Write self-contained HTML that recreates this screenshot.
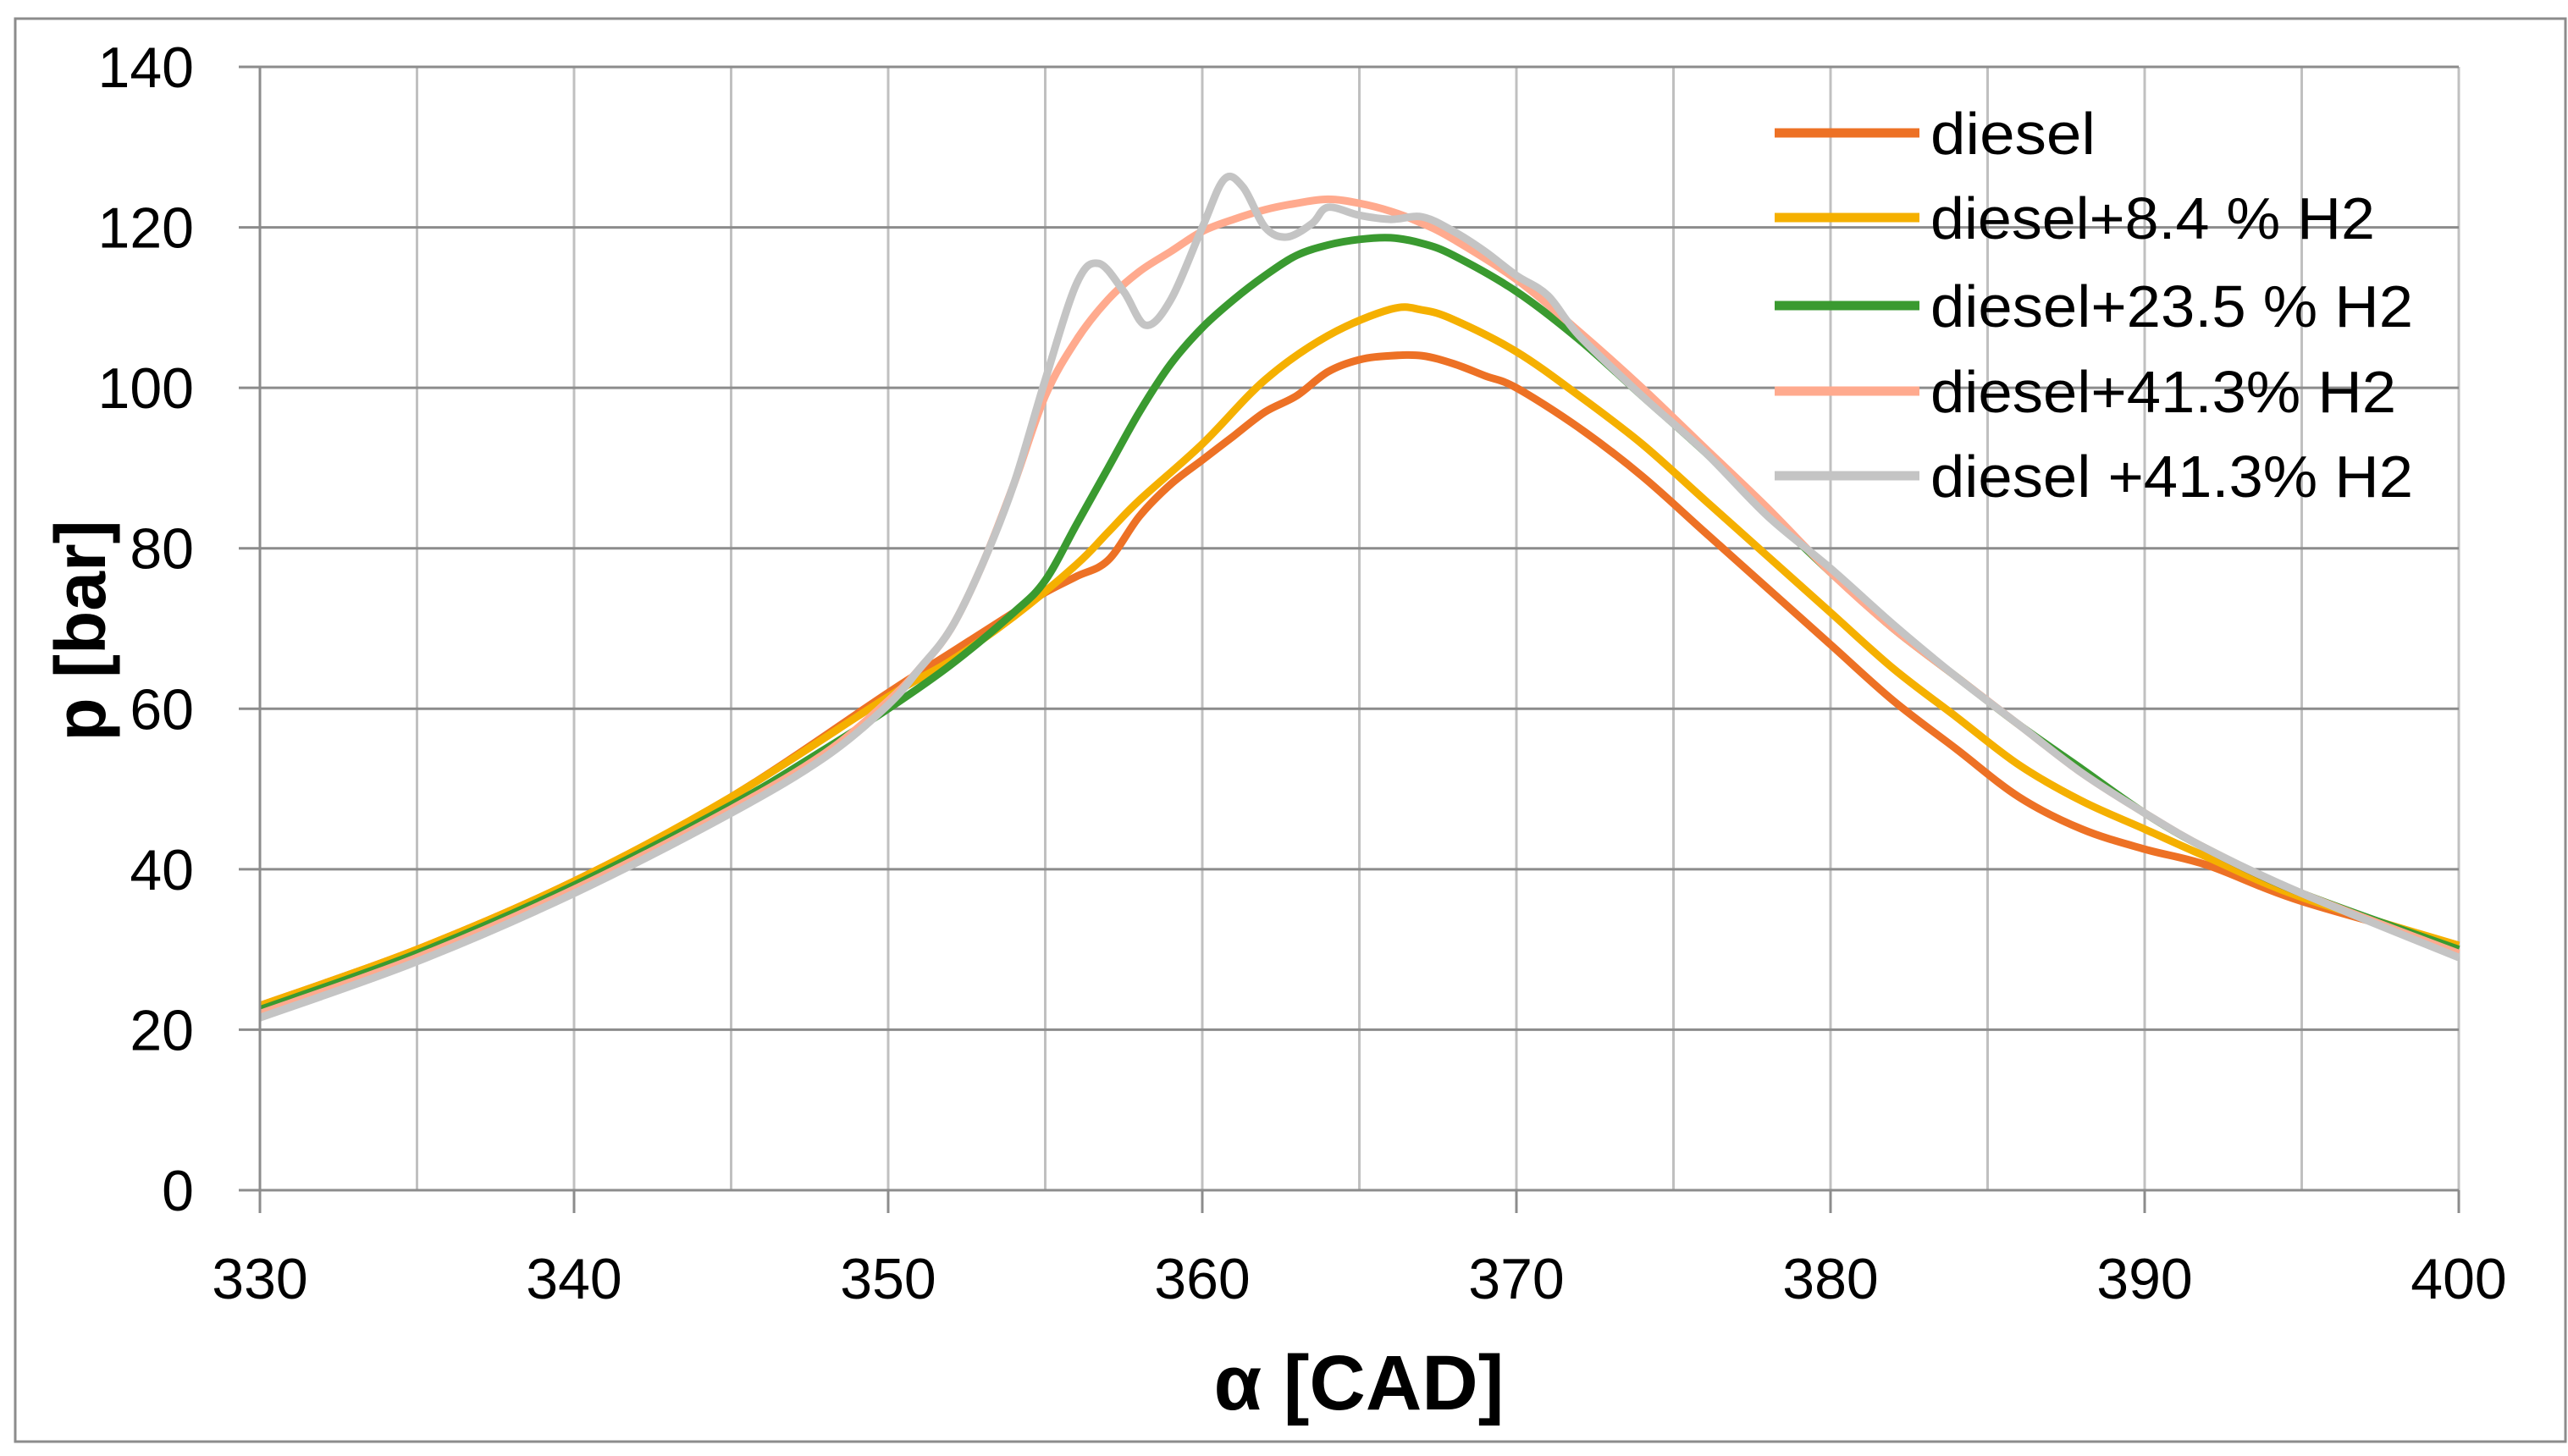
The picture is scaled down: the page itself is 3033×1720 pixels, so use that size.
<!DOCTYPE html>
<html><head><meta charset="utf-8"><style>
html,body{margin:0;padding:0;background:#fff;}
svg{display:block;}
text{font-family:"Liberation Sans",sans-serif;}
</style></head><body>
<svg id="chart" width="3033" height="1720" viewBox="0 0 3033 1720" xmlns="http://www.w3.org/2000/svg">
<rect x="18" y="22" width="3012" height="1681" fill="#fff" stroke="#8c8c8c" stroke-width="3"/>
<g id="grid"></g><g id="series"></g><g id="axes"></g><g id="legend"></g>
<text x="1605" y="1665" font-size="92" font-weight="bold" text-anchor="middle">α [CAD]</text>
<text transform="translate(124,745) rotate(-90)" font-size="84" font-weight="bold" text-anchor="middle">p [bar]</text>
</svg>
<script>
const xTicks=[330,340,350,360,370,380,390,400];
const yTicks=[0,20,40,60,80,100,120,140];
const seriesNames=["diesel","diesel+8.4 % H2","diesel+23.5 % H2","diesel+41.3% H2","diesel +41.3% H2"];
const seriesColors=["#ED7125","#F5B000","#3A9A30","#FFAA8E","#C4C4C4"];
const dieselX=[330,335,340,345,350,352,354,355,356,357,358,359,360,361,362,363,364,365,366,367,368,369,370,372,374,376,378,380,382,384,386,388,390,392,395,400];
const dieselY=[23,30,38.5,49,62,67,72,74.5,76.5,78.5,84,88,91,94,97,99,102,103.5,104,104,103,101.5,100,95,89,82,75,68,61,55,49,45,42.5,40.5,36,30.5];
const h8X=[330,335,340,345,350,352,354,356,357,358,360,362,364,366,367,368,370,372,374,376,378,380,382,384,386,388,390,392,395,400];
const h8Y=[23,30,38.5,49,61.5,66,71.5,78,82,86,93,101,106.5,109.8,109.7,108.5,104.5,99,93,86,79,72,65,59,53,48.5,45,41.5,36.5,30.5];
const h23X=[330,335,340,345,348,350,352,354,355,356,357,358,359,360,361,362,363,364,365,366,367,368,370,372,374,376,378,380,382,384,386,388,390,392,395,400];
const h23Y=[22.5,29.5,38,48,55,60,65.5,72,76,83,90,97,103,107.5,111,114,116.5,117.8,118.5,118.7,118,116.5,112,106,99,92,84.5,77,70,64,58,52.5,47,42.5,37,30];
const h41X=[330,335,340,345,348,350,351,352,353,354,355,356,357,358,359,360,361,362,363,364,365,366,367,368,370,372,374,376,378,380,382,384,386,388,390,392,395,400];
const h41Y=[22,29,37.5,47.5,54.5,61,65,70,78,88,99,106,111,114.5,117,119.5,121,122.2,123,123.5,123,122,120.5,118.5,113.5,107,100,92.5,85,77,70,64,58,52,47,42.5,37,29.5];
const h41bX=[330,335,340,345,348,350,351,352,353,354,355,356,356.7,357.5,358.2,359,360,360.7,361.3,362,362.7,363.5,364,365,366,367,368,369,370,371,372,374,376,378,380,382,384,386,388,390,392,395,400];
const h41bY=[21.5,28.5,37,47,54,60.5,65,70,78,88,101,113,115.5,112,107.8,111,120,126,125,120,118.8,120.5,122.5,121.5,121,121.3,119.5,117,114,111.5,106.5,99,92,84,77.5,70.5,64,58,52,47,42.5,37,29];
const X0=307,X1=2904,Y0=1406,Y1=79;
const sx=v=>X0+(v-330)/(400-330)*(X1-X0);
const sy=v=>Y0-(v-0)/(140-0)*(Y0-Y1);
const NS="http://www.w3.org/2000/svg";
function mk(tag,attrs,parent){const e=document.createElementNS(NS,tag);for(const k in attrs)e.setAttribute(k,attrs[k]);parent.appendChild(e);return e;}
const grid=document.getElementById('grid'),axes=document.getElementById('axes'),ser=document.getElementById('series'),leg=document.getElementById('legend');
for(let v=335;v<=400;v+=5){const l=mk('line',{x1:sx(v),x2:sx(v),y1:Y1,y2:Y0,stroke:'#c0c0c0','stroke-width':3},grid);

}
yTicks.forEach(v=>{const l=mk('line',{x1:X0-25,x2:X1,y1:sy(v),y2:sy(v),stroke:'#8c8c8c','stroke-width':3},grid);


const t=mk('text',{x:229,y:sy(v)+24,'font-size':68,'text-anchor':'end'},axes);t.textContent=v;

});
const ya=mk('line',{x1:X0,x2:X0,y1:Y1,y2:Y0+27,stroke:'#8c8c8c','stroke-width':3},axes);


xTicks.forEach(v=>{const l=mk('line',{x1:sx(v),x2:sx(v),y1:Y0,y2:Y0+27,stroke:'#8c8c8c','stroke-width':3},axes);


const t=mk('text',{x:sx(v),y:1534,'font-size':68,'text-anchor':'middle'},axes);t.textContent=v;

});
function path(xs,ys){const p=xs.map((x,i)=>[sx(x),sy(ys[i])]);let d='M'+p[0][0]+','+p[0][1];
for(let i=0;i<p.length-1;i++){const a=p[Math.max(0,i-1)],b=p[i],c=p[i+1],e=p[Math.min(p.length-1,i+2)];
const t=1/6;d+=' C'+(b[0]+(c[0]-a[0])*t)+','+(b[1]+(c[1]-a[1])*t)+' '+(c[0]-(e[0]-b[0])*t)+','+(c[1]-(e[1]-b[1])*t)+' '+c[0]+','+c[1];}return d;}
const data=[[dieselX,dieselY],[h8X,h8Y],[h23X,h23Y],[h41X,h41Y],[h41bX,h41bY]];
const snames=['series-diesel','series-h2-8-4','series-h2-23-5','series-h2-41-3','series-h2-41-3-b'];
data.forEach((s,i)=>{const p=mk('path',{d:path(s[0],s[1]),fill:'none',stroke:seriesColors[i],'stroke-width':9,'stroke-linejoin':'round'},ser);

});
const legY=[157,257,361,462,562];
const legW=[195,525,570,550,570];
seriesNames.forEach((n,i)=>{const l=mk('line',{x1:2096,x2:2267,y1:legY[i],y2:legY[i],stroke:seriesColors[i],'stroke-width':11},leg);


const t=mk('text',{x:2280,y:legY[i]+25,'font-size':70,textLength:legW[i],lengthAdjust:'spacingAndGlyphs'},leg);t.textContent=n;

});
</script>
</body></html>
